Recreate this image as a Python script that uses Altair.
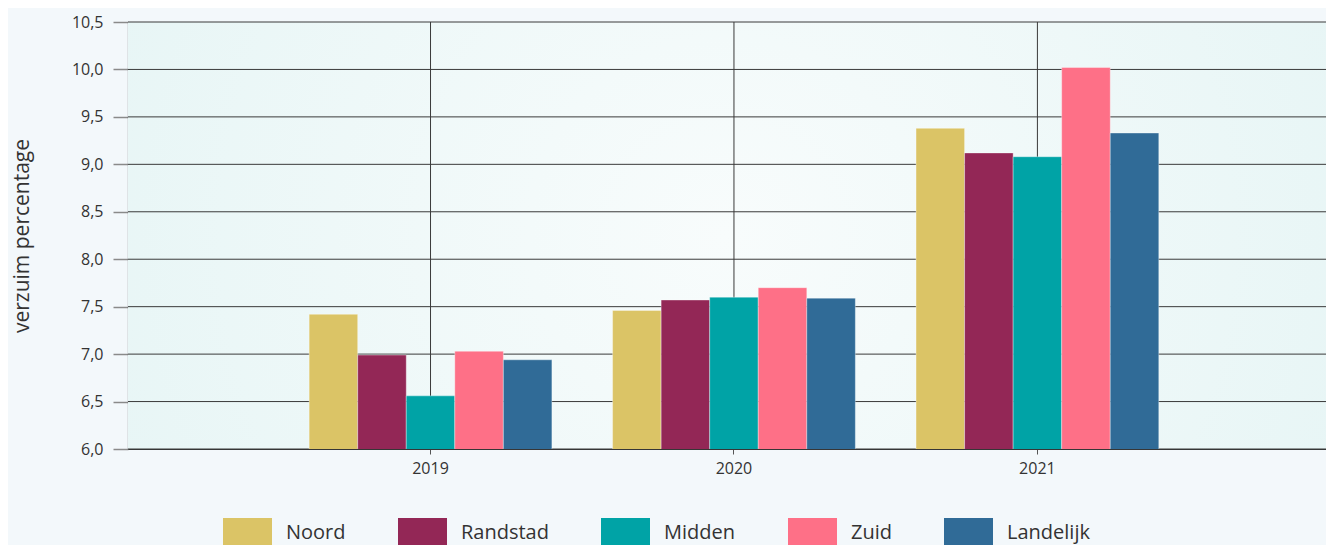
import altair as alt
import pandas as pd

years = ["2019", "2020", "2021"]
regions = ["Noord", "Randstad", "Midden", "Zuid", "Landelijk"]
colors = ["#dbc466", "#932756", "#00a3a6", "#fe7087", "#306b97"]

noord = [7.42, 7.46, 9.38]
randstad = [6.99, 7.57, 9.12]
midden = [6.56, 7.60, 9.08]
zuid = [7.03, 7.70, 10.02]
landelijk = [6.94, 7.59, 9.33]

y_ticks = [6.0, 6.5, 7.0, 7.5, 8.0, 8.5, 9.0, 9.5, 10.0, 10.5]

series = [noord, randstad, midden, zuid, landelijk]
rows = []
for r, vals in zip(regions, series):
    for yr, v in zip(years, vals):
        rows.append({"year": yr, "region": r, "value": v})
df = pd.DataFrame(rows)

W, H = 1198, 427
FONT = "Open Sans"
TXT = "#333333"

xscale = alt.Scale(domain=years, paddingInner=0.2, paddingOuter=0.574, align=0.52)
yscale = alt.Scale(domain=[6.0, 10.5], zero=False, nice=False)

xaxis = alt.Axis(
    title=None, grid=False, bandPosition=0.5, labelAngle=0,
    labelFontSize=16, labelFont=FONT, labelColor=TXT, labelPadding=6,
    tickSize=5, tickColor="#555555", domainColor="#333333", domainWidth=1.2,
)
yaxis = alt.Axis(
    title="verzuim percentage", grid=False, values=y_ticks,
    labelExpr="replace(format(datum.value, '.1f'), '.', ',')",
    labelFontSize=16, labelFont=FONT, labelColor=TXT, labelPadding=10,
    tickSize=15, tickColor="#8a8a8a", tickWidth=1.5,
    domainColor="#333333", domainWidth=1.2,
    titleFont=FONT, titleFontSize=21, titleFontWeight="normal", titleColor=TXT,
    titleAngle=-90, titleAlign="center", titleBaseline="middle",
    titleX=-106, titleY=H / 2,
)

bg = alt.Chart(pd.DataFrame({"a": [0]})).mark_rect(
    fill=alt.RadialGradient(
        gradient="radial",
        x1=0.5, y1=0.5, r1=0.0, x2=0.5, y2=0.5, r2=0.75,
        stops=[
            alt.GradientStop(offset=0, color="#f8fcfc"),
            alt.GradientStop(offset=1, color="#e1f3f3"),
        ],
    )
).encode(x=alt.value(0), x2=alt.value(W), y=alt.value(0), y2=alt.value(H))

hgrid = alt.Chart(pd.DataFrame({"value": y_ticks})).mark_rule(
    color="#3a3a3a", strokeWidth=1
).encode(y=alt.Y("value:Q", scale=yscale, axis=yaxis))

vgrid = alt.Chart(pd.DataFrame({"year": years})).mark_rule(
    color="#3a3a3a", strokeWidth=1
).encode(x=alt.X("year:N", scale=xscale, axis=xaxis, sort=years))

bars = alt.Chart(df).mark_bar(
    clip=True, stroke="white", strokeOpacity=0.35, strokeWidth=1
).encode(
    x=alt.X("year:N", scale=xscale, axis=xaxis, sort=years),
    xOffset=alt.XOffset("region:N", sort=regions, scale=alt.Scale(paddingInner=0, paddingOuter=0)),
    y=alt.Y("value:Q", scale=yscale, axis=yaxis),
    color=alt.Color(
        "region:N",
        scale=alt.Scale(domain=regions, range=colors),
        legend=alt.Legend(
            title=None, orient="none", legendX=95, legendY=486.5,
            direction="horizontal", columns=5,
            symbolType="M-1,-0.62L1,-0.62L1,0.62L-1,0.62Z",
            symbolSize=2401, symbolStrokeWidth=0, symbolOpacity=1,
            labelFontSize=20, labelFont=FONT, labelColor=TXT,
            labelOffset=14, columnPadding=52, padding=0,
        ),
    ),
)

chart = alt.layer(bg, hgrid, vgrid, bars).properties(
    width=W, height=H,
    autosize=alt.AutoSizeParams(type="none"),
    padding={"left": 120, "top": 14, "right": 0, "bottom": 96},
).configure(background="#f3f8fb").configure_view(stroke=None)

chart.save("out.html", embed_options={"renderer": "svg", "actions": False})
